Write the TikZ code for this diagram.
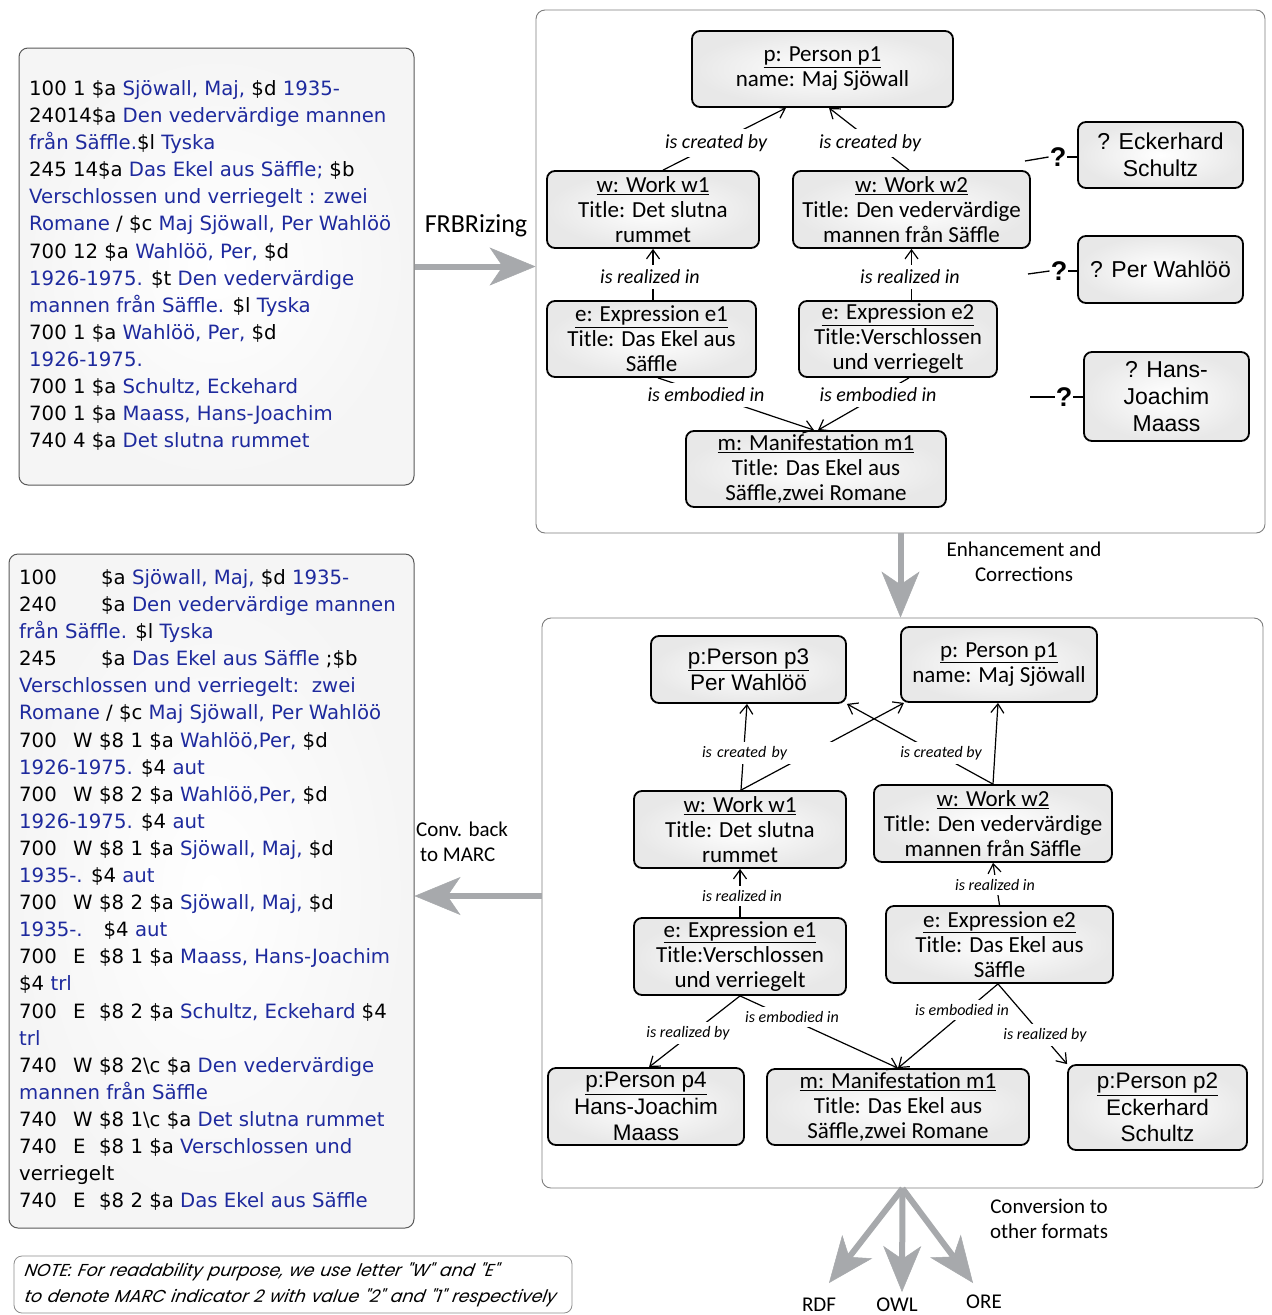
\documentclass[tikz,border=0pt]{standalone}
\usepackage{fontspec}
\setmainfont{DejaVu Sans}
\newfontfamily\gillfont{Carlito}
\newfontfamily\helvfont{Liberation Sans}
\newfontfamily\notefont{Poppins}[FakeSlant=0.18]
\usetikzlibrary{arrows.meta}
\definecolor{marcblue}{RGB}{30,42,158}
\definecolor{framegray}{RGB}{125,125,125}
\definecolor{arrowgray}{RGB}{167,169,172}
\newcommand{\mblue}[1]{\textcolor{marcblue}{#1}}
\newcommand{\mtag}[2]{\makebox[54pt][l]{#1}\makebox[26pt][l]{#2}}
\begin{document}
\begin{tikzpicture}[x=1pt,y=-1pt,
  frame/.style={draw=framegray, line width=0.9pt, rounded corners=9pt, fill=white},
  marcbox/.style={draw=black!65, line width=1pt, rounded corners=9pt, inner color=white, outer color=black!4},
  marctext/.style={font={\fontsize{19.7}{27.1}\selectfont}, align=left, inner sep=0pt, anchor=north west},
  ent/.style={draw=black, line width=1.8pt, rounded corners=8pt, inner color=white, outer color=black!9, align=center, inner sep=0pt},
  gill/.style={font={\gillfont\fontsize{23}{25}\selectfont}},
  helv/.style={font={\helvfont\fontsize{22.5}{26.5}\selectfont}},
  rel/.style={draw=black, line width=1.2pt, -{Straight Barb[length=9pt,width=13pt]}},
  lbl/.style={font={\gillfont\itshape\fontsize{20}{22}\selectfont}, fill=white, inner xsep=2pt, inner ysep=5pt},
  slbl/.style={font={\gillfont\itshape\fontsize{16}{18}\selectfont}, fill=white, inner xsep=2pt, inner ysep=4pt},
  plain/.style={font={\gillfont\fontsize{21}{25}\selectfont}, align=center, inner sep=0pt},
  bigarrow/.style={draw=arrowgray, line width=6pt, -{Stealth[length=46pt,width=38pt,inset=13pt,line width=0.5pt]}},
  qmark/.style={font={\helvfont\bfseries\fontsize{27}{27}\selectfont}, inner sep=1pt},
  qline/.style={draw=black, line width=1.3pt},
  notebox/.style={draw=black!45, line width=0.8pt, rounded corners=8pt, fill=white, inner xsep=10pt, align=left,
    font={\notefont\fontsize{17.3}{26}\selectfont}}
]
\useasboundingbox (0,0) rectangle (1272,1315);
\fill[white] (0,0) rectangle (1272,1315);

% ---------- panels ----------
\node[frame, minimum width=729pt, minimum height=523pt] (topframe) at (900.5,271.5) {};
\node[frame, minimum width=721pt, minimum height=570pt] (botframe) at (902.5,903) {};

% ---------- source MARC record ----------
\node[marcbox, minimum width=395pt, minimum height=437pt] (marc1) at (216.5,266.5) {};
\node[marctext] (marc1txt) at (29,80.3) {%
100 1 \$a \mblue{Sjöwall, Maj,} \$d \mblue{1935-}\\
24014\$a \mblue{Den vedervärdige mannen}\\
\mblue{från Säffle.}\$l \mblue{Tyska}\\
245 14\$a \mblue{Das Ekel aus Säffle;} \$b\\
\mblue{Verschlossen und verriegelt : zwei}\\
\mblue{Romane} / \$c \mblue{Maj Sjöwall, Per Wahlöö}\\
700 12 \$a \mblue{Wahlöö, Per,} \$d\\
\mblue{1926-1975.} \$t \mblue{Den vedervärdige}\\
\mblue{mannen från Säffle.} \$l \mblue{Tyska}\\
700 1 \$a \mblue{Wahlöö, Per,} \$d\\
\mblue{1926-1975.}\\
700 1 \$a \mblue{Schultz, Eckehard}\\
700 1 \$a \mblue{Maass, Hans-Joachim}\\
740 4 \$a \mblue{Det slutna rummet}};

% ---------- converted MARC record ----------
\node[marcbox, minimum width=405pt, minimum height=674pt] (marc2) at (211.5,891) {};
\node[marctext] (marc2txt) at (19,569.3) {%
\makebox[82pt][l]{100}\$a \mblue{Sjöwall, Maj,} \$d \mblue{1935-}\\
\makebox[82pt][l]{240}\$a \mblue{Den vedervärdige mannen}\\
\mblue{från Säffle.} \$l \mblue{Tyska}\\
\makebox[82pt][l]{245}\$a \mblue{Das Ekel aus Säffle} ;\$b\\
\mblue{Verschlossen und verriegelt:\ \ zwei}\\
\mblue{Romane} / \$c \mblue{Maj Sjöwall, Per Wahlöö}\\
\mtag{700}{W}\$8 1 \$a \mblue{Wahlöö,Per,} \$d\\
\mblue{1926-1975.} \$4 \mblue{aut}\\
\mtag{700}{W}\$8 2 \$a \mblue{Wahlöö,Per,} \$d\\
\mblue{1926-1975.} \$4 \mblue{aut}\\
\mtag{700}{W}\$8 1 \$a \mblue{Sjöwall, Maj,} \$d\\
\mblue{1935-.} \$4 \mblue{aut}\\
\mtag{700}{W}\$8 2 \$a \mblue{Sjöwall, Maj,} \$d\\
\mblue{1935-.}\hspace{21pt}\$4 \mblue{aut}\\
\mtag{700}{E}\$8 1 \$a \mblue{Maass, Hans-Joachim}\\
\$4 \mblue{trl}\\
\mtag{700}{E}\$8 2 \$a \mblue{Schultz, Eckehard} \$4\\
\mblue{trl}\\
\mtag{740}{W}\$8 2\textbackslash c \$a \mblue{Den vedervärdige}\\
\mblue{mannen från Säffle}\\
\mtag{740}{W}\$8 1\textbackslash c \$a \mblue{Det slutna rummet}\\
\mtag{740}{E}\$8 1 \$a \mblue{Verschlossen und}\\
verriegelt\\
\mtag{740}{E}\$8 2 \$a \mblue{Das Ekel aus Säffle}};

% ---------- note ----------
\node[notebox, minimum width=558pt, minimum height=57pt, text width=538pt] (note) at (293,1284.5)
  {\itshape NOTE: For readability purpose, we use letter "W" and "E"\\to denote MARC indicator 2 with value "2" and "1" respectively};

% ---------- FRBR entities (first pass) ----------
\node[ent, gill, minimum width=261pt, minimum height=76pt] (p1) at (822.5,69) {\underline{p: Person p1}\\name: Maj Sjöwall};
\node[ent, gill, minimum width=212pt, minimum height=77pt] (w1) at (653,209.5) {\underline{w: Work w1}\\Title: Det slutna\\rummet};
\node[ent, gill, minimum width=237pt, minimum height=77pt] (w2) at (911.5,209.5) {\underline{w: Work w2}\\Title: Den vedervärdige\\mannen från Säffle};
\node[ent, gill, minimum width=209pt, minimum height=76pt] (e1) at (651.5,339) {\underline{e: Expression e1}\\Title: Das Ekel aus\\Säffle};
\node[ent, gill, minimum width=198pt, minimum height=76pt] (e2) at (898,339) {\underline{e: Expression e2}\\Title:Verschlossen\\und verriegelt};
\node[ent, gill, minimum width=260pt, minimum height=76pt] (m1) at (816,469) {\underline{m: Manifestation m1}\\Title: Das Ekel aus\\Säffle,zwei Romane};
\node[ent, helv, font={\helvfont\fontsize{23}{27}\selectfont}, minimum width=165pt, minimum height=66pt] (eck) at (1160.5,155) {? Eckerhard\\Schultz};
\node[ent, helv, font={\helvfont\fontsize{23}{27}\selectfont}, minimum width=165pt, minimum height=67pt] (per) at (1160.5,269.5) {? Per Wahlöö};
\node[ent, helv, font={\helvfont\fontsize{23}{27}\selectfont}, minimum width=165pt, minimum height=89pt] (hans) at (1166.5,396.5) {? Hans-\\Joachim\\Maass};

\draw[rel] ([xshift=10pt]w1.north) -- ([xshift=-36.5pt]p1.south);
\draw[rel] ([xshift=-2.5pt]w2.north) -- ([xshift=6.5pt]p1.south);
\draw[rel] (e1.north -| w1.south) -- (w1.south);
\draw[rel] (e2.north -| w2.south) -- (w2.south);
\draw[rel] ([xshift=6.5pt]e1.south) -- ([xshift=-2pt]m1.north);
\draw[rel] ([xshift=11pt]e2.south) -- ([xshift=2pt]m1.north);

\node[lbl] (lc1) at (716,143) {is created by};
\node[lbl] (lc2) at (870,143) {is created by};
\node[lbl] (lr1) at (650,277) {is realized in};
\node[lbl] (lr2) at (910,277) {is realized in};
\node[lbl] (le1) at (706,395) {is embodied in};
\node[lbl] (le2) at (878,395) {is embodied in};

\node[qmark] (q1) at (1058,157) {?};
\node[qmark] (q2) at (1059,271) {?};
\node[qmark] (q3) at (1064,397) {?};
\coordinate (q1s) at (1025,161);
\coordinate (q2s) at (1028,274);
\coordinate (q3s) at (1030,397);
\draw[qline] (q1s) -- (q1.west);
\draw[qline] (q1.east) -- (q1.east -| eck.west);
\draw[qline] (q2s) -- (q2.west);
\draw[qline] (q2.east) -- (q2.east -| per.west);
\draw[qline] (q3s) -- (q3.west);
\draw[qline] (q3.east) -- (q3.east -| hans.west);

% ---------- FRBR entities (enhanced) ----------
\node[ent, helv, minimum width=195pt, minimum height=67pt] (p3) at (748.5,669.5) {\underline{p:Person p3}\\Per Wahlöö};
\node[ent, gill, minimum width=196pt, minimum height=75pt] (p1b) at (999,664.5) {\underline{p: Person p1}\\name: Maj Sjöwall};
\node[ent, gill, minimum width=212pt, minimum height=77pt] (w1b) at (740,829.5) {\underline{w: Work w1}\\Title: Det slutna\\rummet};
\node[ent, gill, minimum width=238pt, minimum height=77pt] (w2b) at (993,823.5) {\underline{w: Work w2}\\Title: Den vedervärdige\\mannen från Säffle};
\node[ent, gill, minimum width=212pt, minimum height=77pt] (e1b) at (740,956.5) {\underline{e: Expression e1}\\Title:Verschlossen\\und verriegelt};
\node[ent, gill, minimum width=227pt, minimum height=77pt] (e2b) at (999.5,944.5) {\underline{e: Expression e2}\\Title: Das Ekel aus\\Säffle};
\node[ent, helv, minimum width=196pt, minimum height=77pt] (p4) at (646,1106.5) {\underline{p:Person p4}\\Hans-Joachim\\Maass};
\node[ent, gill, minimum width=262pt, minimum height=76pt] (m1b) at (898,1107) {\underline{m: Manifestation m1}\\Title: Das Ekel aus\\Säffle,zwei Romane};
\node[ent, helv, minimum width=179pt, minimum height=85pt] (p2) at (1157.5,1107.5) {\underline{p:Person p2}\\Eckerhard\\Schultz};

\draw[rel] ([xshift=1pt]w1b.north) -- ([xshift=-1.5pt]p3.south);
\draw[rel] ([xshift=1pt]w1b.north) -- ([xshift=-95pt]p1b.south);
\draw[rel] (w2b.north) -- (p3.south east);
\draw[rel] (w2b.north) -- ([xshift=-1pt]p1b.south);
\draw[rel] (e1b.north) -- (w1b.south);
\draw[rel] (e2b.north) -- (w2b.south);
\draw[rel] (e1b.south) -- ([xshift=3pt]p4.north);
\draw[rel] (e1b.south) -- (m1b.north);
\draw[rel] ([xshift=-1.5pt]e2b.south) -- (m1b.north);
\draw[rel] ([xshift=-1.5pt]e2b.south) -- (p2.north west);

\node[slbl, text width=131pt, align=left] (bc1) at (767.5,753) {is created by};
\node[slbl] (bc2) at (941,753) {is created by};
\node[slbl] (br1) at (742,896) {is realized in};
\node[slbl] (br2) at (995,885) {is realized in};
\node[slbl] (bp4) at (688,1033) {is realized by};
\node[slbl] (be1) at (792,1017) {is embodied in};
\node[slbl] (be2) at (962,1010) {is embodied in};
\node[slbl] (bp2) at (1045,1035) {is realized by};

% ---------- process arrows ----------
\draw[bigarrow] (marc1.east) -- (marc1.east -| topframe.west);
\draw[bigarrow] (topframe.south) -- (topframe.south |- botframe.north);
\draw[bigarrow] ([yshift=7pt]botframe.west) -- ([yshift=7pt]botframe.west -| marc2.east);
\coordinate (tipR) at (829,1283);
\coordinate (tipO) at (902,1292);
\coordinate (tipE) at (973,1283);
\draw[bigarrow] (botframe.south) -- (tipR);
\draw[bigarrow] (botframe.south) -- (tipO);
\draw[bigarrow] (botframe.south) -- (tipE);

\node[plain, font={\gillfont\fontsize{26}{28}\selectfont}] (frbr) at (476,226) {FRBRizing};
\node[plain] (enh) at (1024,562) {Enhancement and\\Corrections};
\node[plain, align=left, anchor=west] (conv) at (416,842) {Conv. back\\\hspace{4pt}to MARC};
\node[plain] (cto) at (1049,1219) {Conversion to\\other formats};
\node[plain] (rdf) at (819,1305) {RDF};
\node[plain] (owl) at (897,1305) {OWL};
\node[plain] (ore) at (984,1302) {ORE};
\end{tikzpicture}
\end{document}
